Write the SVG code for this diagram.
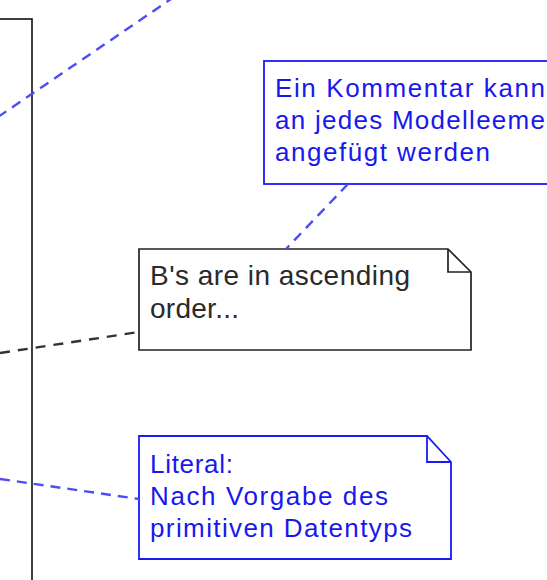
<svg xmlns="http://www.w3.org/2000/svg" width="547" height="580" viewBox="0 0 547 580">
<style>
.bg{fill:#ffffff}
.frame{fill:#ffffff;stroke:#111111;stroke-width:1.6}
.bnote{fill:#ffffff;stroke:#1a1af5;stroke-width:1.8}
.knote{fill:#ffffff;stroke:#222222;stroke-width:1.7}
.fold{fill:none}
.bt{font-family:"Liberation Sans",Arial,sans-serif;font-size:26px;fill:#1818ee}
.kt{font-family:"Liberation Sans",Arial,sans-serif;font-size:28px;fill:#2a2a2a}
.cb{fill:none;stroke:#4d4df5;stroke-width:2.4;stroke-dasharray:10 7}
.ck{fill:none;stroke:#333333;stroke-width:2.4;stroke-dasharray:10 8}
</style>
<rect class="bg" x="0" y="0" width="547" height="580"/>
<g id="element">
<rect class="frame" x="-10" y="19" width="42" height="600"/>
</g>
<g id="note-kommentar">
<rect class="bnote" x="264" y="61" width="300" height="123"/>
<text class="bt" x="275" y="96.5" textLength="270" lengthAdjust="spacing">Ein Kommentar kann</text>
<text class="bt" x="275" y="129" textLength="270" lengthAdjust="spacing">an jedes Modelleeme</text>
<text class="bt" x="275" y="161" textLength="215" lengthAdjust="spacing">angefügt werden</text>
</g>
<g id="note-order">
<path class="knote" d="M139,249 H448 L471,272 V350 H139 Z"/>
<path class="knote fold" d="M448,249 V272 H471"/>
<text class="kt" x="150" y="285" textLength="260" lengthAdjust="spacing">B's are in ascending</text>
<text class="kt" x="150" y="318" textLength="89" lengthAdjust="spacing">order...</text>
</g>
<g id="note-literal">
<path class="bnote" d="M139,436 H427 L451,462 V559 H139 Z"/>
<path class="bnote fold" d="M427,436 V462 H451"/>
<text class="bt" x="150" y="473" textLength="83" lengthAdjust="spacing">Literal:</text>
<text class="bt" x="150" y="505" textLength="238" lengthAdjust="spacing">Nach Vorgabe des</text>
<text class="bt" x="150" y="537" textLength="262" lengthAdjust="spacing">primitiven Datentyps</text>
</g>
<g id="connectors">
<line class="cb" x1="-2" y1="117" x2="174" y2="-3"/>
<line class="cb" x1="348" y1="184" x2="286" y2="249"/>
<line class="ck" x1="0" y1="353" x2="139" y2="332"/>
<line class="cb" x1="0" y1="479" x2="139" y2="499"/>
</g>
</svg>
